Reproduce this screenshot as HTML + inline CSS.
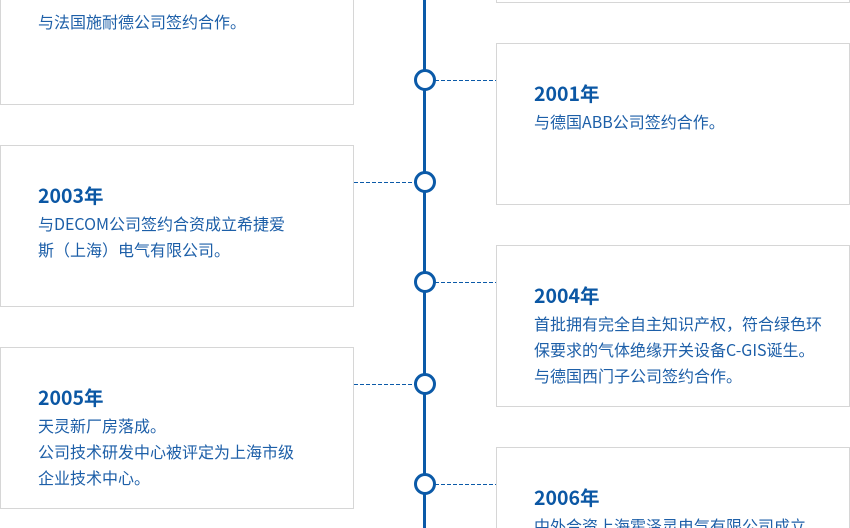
<!DOCTYPE html>
<html><head><meta charset="utf-8"><style>
html,body{margin:0;width:850px;height:528px;overflow:hidden}
body{background:#fff;position:relative;font-family:"Noto Sans CJK SC","Liberation Sans",sans-serif}
.box{position:absolute;width:354px;border:1px solid #d6d6d6;background:#fff;box-sizing:border-box;overflow:hidden}
.t{position:absolute;left:37px;font-size:19.5px;font-weight:bold;color:#0b57a4;line-height:24px;white-space:nowrap}
.p{position:absolute;left:37px;font-size:16px;color:#1d5fa8;line-height:26px;white-space:nowrap}
.line{position:absolute;left:423px;top:0;width:3px;height:528px;background:#0b5aa8}
.c{position:absolute;width:16px;height:16px;border:3px solid #0b5aa8;border-radius:50%;background:#fff;left:414px}
.d{position:absolute;height:1px;background:repeating-linear-gradient(90deg,#0b5aa8 0 4px,transparent 4px 6px)}
</style></head><body>
<div class="line"></div>
<div class="box" style="left:0;top:-60px;height:165px"><div class="p" style="top:67px">与法国施耐德公司签约合作。</div></div>
<div class="box" style="left:496px;top:-60px;height:63px"></div>
<div class="box" style="left:496px;top:43px;height:162px"><div class="t" style="top:37px">2001年</div><div class="p" style="top:64px">与德国ABB公司签约合作。</div></div>
<div class="box" style="left:0;top:145px;height:162px"><div class="t" style="top:37px">2003年</div><div class="p" style="top:64px">与DECOM公司签约合资成立希捷爱<br>斯（上海）电气有限公司。</div></div>
<div class="box" style="left:496px;top:245px;height:162px"><div class="t" style="top:37px">2004年</div><div class="p" style="top:64px">首批拥有完全自主知识产权，符合绿色环<br>保要求的气体绝缘开关设备C-GIS诞生。<br>与德国西门子公司签约合作。</div></div>
<div class="box" style="left:0;top:347px;height:162px"><div class="t" style="top:37px">2005年</div><div class="p" style="top:64px">天灵新厂房落成。<br>公司技术研发中心被评定为上海市级<br>企业技术中心。</div></div>
<div class="box" style="left:496px;top:447px;height:90px"><div class="t" style="top:37px">2006年</div><div class="p" style="top:64px">中外合资上海霍泽灵电气有限公司成立</div></div>
<div class="d" style="left:435px;width:61px;top:80px"></div>
<div class="d" style="left:354px;width:61px;top:182px"></div>
<div class="d" style="left:435px;width:61px;top:282px"></div>
<div class="d" style="left:354px;width:61px;top:384px"></div>
<div class="d" style="left:435px;width:61px;top:484px"></div>
<div class="c" style="top:69px"></div>
<div class="c" style="top:171px"></div>
<div class="c" style="top:271px"></div>
<div class="c" style="top:373px"></div>
<div class="c" style="top:473px"></div>
</body></html>
